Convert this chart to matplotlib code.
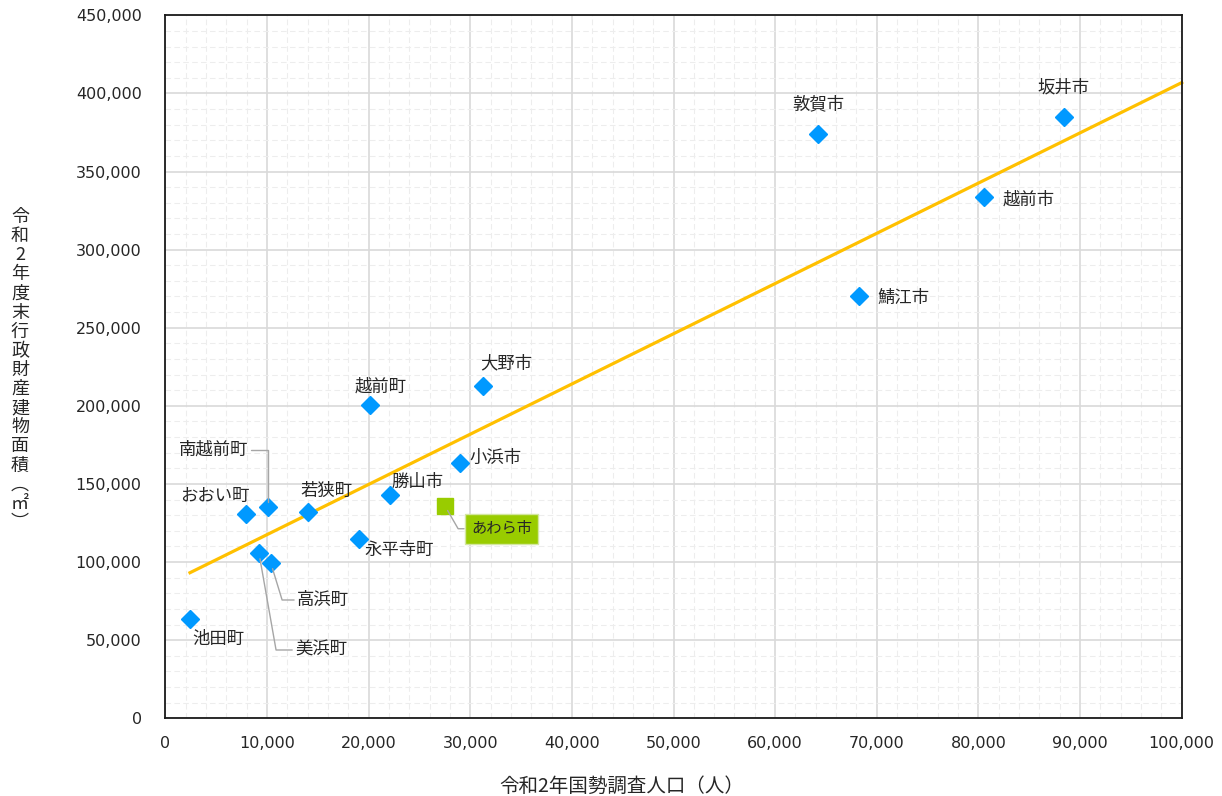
import numpy as np
import matplotlib
matplotlib.use("Agg")
import matplotlib.pyplot as plt
from matplotlib.ticker import MultipleLocator, FuncFormatter

plt.rcParams['font.family'] = ['DejaVu Sans', 'Noto Sans CJK JP']

# data
names = ["池田町", "おおい町", "南越前町", "若狭町", "美浜町", "高浜町", "永平寺町", "越前町",
         "勝山市", "あわら市", "小浜市", "大野市", "敦賀市", "鯖江市", "越前市", "坂井市"]
population = [2430, 7940, 10060, 14000, 9220, 10390, 19020, 20130,
              22100, 27500, 28980, 31240, 64200, 68240, 80500, 88400]
area = [63800, 130800, 135100, 132100, 105600, 99200, 114700, 200600,
        142900, 136100, 163200, 212500, 374000, 270300, 333800, 385100]
highlight = "あわら市"

# linear trend line (start / end)
trend_x = [2430, 100000]
trend_y = [93200, 406900]

xlabel = "令和2年国勢調査人口（人）"
ylabel_chars = list("令和2年度末行政財産建物面積") + ["︵", "㎡", "︶"]

# label offsets (points) and leader settings
label_pos = {
    "池田町": ((20.2, -14.6), 'center', None),
    "おおい町": ((-22.7, 13.0), 'center', None),
    "南越前町": ((-13.9, 41.3), 'right', "angle,angleA=0,angleB=90,rad=0"),
    "若狭町": ((13.9, 14.9), 'center', None),
    "美浜町": ((25.9, -69.6), 'left', "angle,angleA=0,angleB=100,rad=0"),
    "高浜町": ((18.7, -26.4), 'left', "angle,angleA=0,angleB=107,rad=0"),
    "永平寺町": ((29.0, -7.9), 'center', None),
    "越前町": ((7.9, 13.0), 'center', None),
    "勝山市": ((20.2, 9.4), 'center', None),
    "あわら市": ((40.8, -16.6), 'center', "angle,angleA=0,angleB=120,rad=0"),
    "小浜市": ((25.9, 3.8), 'center', None),
    "大野市": ((16.6, 16.6), 'center', None),
    "敦賀市": ((0.5, 21.6), 'center', None),
    "鯖江市": ((32.4, -1.4), 'center', None),
    "越前市": ((32.4, -1.7), 'center', None),
    "坂井市": ((0.0, 20.7), 'center', None),
}

fig = plt.figure(figsize=(12.22, 7.96), dpi=100)
ax = fig.add_axes([165.3 / 1222, (796 - 718.3) / 796, (1181.7 - 165.3) / 1222, (718.3 - 15.3) / 796])

ax.set_xlim(0, 100000)
ax.set_ylim(0, 450000)
ax.xaxis.set_major_locator(MultipleLocator(10000))
ax.xaxis.set_minor_locator(MultipleLocator(2000))
ax.yaxis.set_major_locator(MultipleLocator(50000))
ax.yaxis.set_minor_locator(MultipleLocator(10000))
fmt = FuncFormatter(lambda v, p: f"{int(v):,}")
ax.xaxis.set_major_formatter(fmt)
ax.yaxis.set_major_formatter(fmt)

ax.grid(which='minor', color='#EDEDED', linestyle=(0, (5, 3)), linewidth=0.8, zorder=0)
ax.grid(which='major', color='#D9D9D9', linestyle='-', linewidth=1.2, zorder=0)
ax.set_axisbelow(True)
ax.tick_params(which='both', length=0)
ax.tick_params(axis='x', labelsize=11.5, pad=13, colors='#262626')
ax.tick_params(axis='y', labelsize=11.5, pad=17, colors='#262626')
for s in ax.spines.values():
    s.set_color('#1a1a1a')
    s.set_linewidth(1.3)

# trend line
ax.plot(trend_x, trend_y, color='#FFC000', linewidth=2.3, zorder=2, clip_on=False)

# points
for n, xv, yv in zip(names, population, area):
    if n == highlight:
        ax.plot(xv, yv, marker='s', markersize=11, color='#99CC00', linestyle='none', zorder=3)
    else:
        ax.plot(xv, yv, marker='D', markersize=9, color='#0099FF', linestyle='none', zorder=3)

jp = ['Noto Sans CJK JP', 'DejaVu Sans']
for n, xv, yv in zip(names, population, area):
    (dx, dy), ha, conn = label_pos[n]
    kw = dict(xy=(xv, yv), xytext=(dx, dy), textcoords='offset points', ha=ha, va='center',
              fontsize=12.5, family=jp, color='#262626', zorder=4)
    if n == highlight:
        kw['fontsize'] = 11
        kw['bbox'] = dict(boxstyle='square,pad=0.42', facecolor='#99CC00', edgecolor='#D3E6A0', linewidth=1)
    if conn is not None:
        kw['arrowprops'] = dict(arrowstyle='-', color='#A6A6A6', linewidth=1,
                                connectionstyle=conn, shrinkA=0, shrinkB=4)
    ax.annotate(n, **kw)

fig.text(622 / 1222, 1 - 786 / 796, xlabel, ha='center', va='center', fontsize=14, family=jp, color='#262626')
fig.text(20 / 1222, 1 - 370 / 796, "\n".join(ylabel_chars), ha='center', va='center', fontsize=13,
         family=jp, color='#262626', linespacing=1.08)

fig.savefig('out.png', dpi=100)
